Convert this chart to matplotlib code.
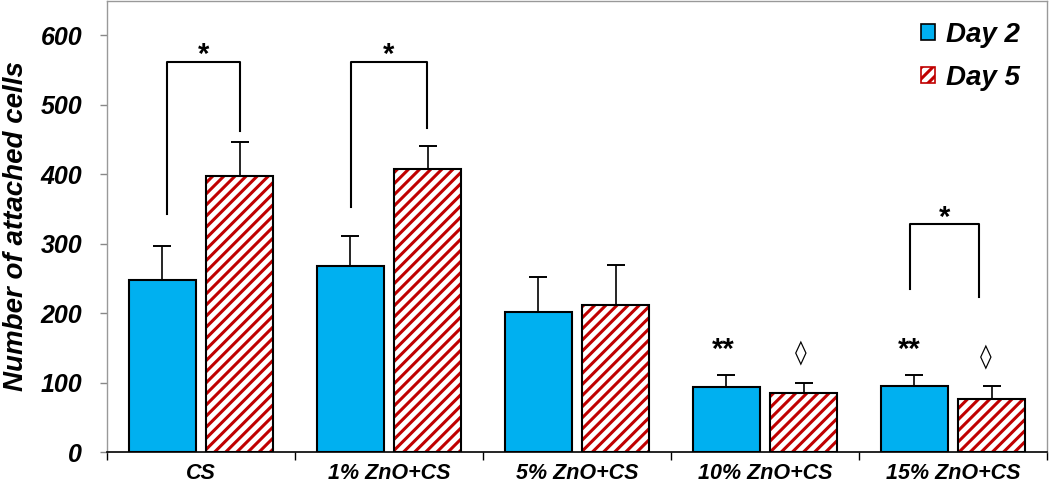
import matplotlib
matplotlib.use("Agg")
import matplotlib.pyplot as plt
import numpy as np
from matplotlib.patches import Patch

plt.rcParams['font.family'] = ['Liberation Sans', 'DejaVu Sans']
plt.rcParams['hatch.linewidth'] = 2.2

categories = ["CS", "1% ZnO+CS", "5% ZnO+CS", "10% ZnO+CS", "15% ZnO+CS"]
day2 = [247, 268, 201, 94, 95]
day2_err = [50, 43, 51, 17, 16]
day5 = [398, 408, 211, 85, 76]
day5_err = [48, 33, 58, 15, 19]
series_labels = ["Day 2", "Day 5"]
yticks = [0, 100, 200, 300, 400, 500, 600]

# significance brackets: (category, left x offset, right x offset, left bottom, right bottom, top)
brackets = [(0, -0.18, 0.21, 342, 462, 562),
            (1, -0.20, 0.20, 353, 466, 562),
            (4, -0.23, 0.14, 234, 223, 328)]
marks = [(3, -0.223, 135, "**"), (3, 0.19, 133, "\u25CA"),
         (4, -0.234, 135, "**"), (4, 0.176, 128, "\u25CA")]

blue = "#00B0F0"
red = "#C00000"

fig = plt.figure(figsize=(10.5, 4.88), dpi=100)
ax = fig.add_axes([107/1050, 1-452/488, 940/1050, 451.5/488])

x = np.arange(len(categories))
w = 0.36
off = 0.205

ax.bar(x - off, day2, w, color=blue, edgecolor="black", linewidth=1.5, zorder=3)
ax.bar(x + off, day5, w, color="white", edgecolor=red, hatch="///", linewidth=0, zorder=3)
ax.bar(x + off, day5, w, fill=False, edgecolor="black", linewidth=1.5, zorder=4)

ax.errorbar(x - off, day2, yerr=[np.zeros(len(day2)), day2_err], fmt="none",
            ecolor="black", elinewidth=1.2, capsize=6.5, capthick=1.4, zorder=2)
ax.errorbar(x + off, day5, yerr=[np.zeros(len(day5)), day5_err], fmt="none",
            ecolor="black", elinewidth=1.2, capsize=6.5, capthick=1.4, zorder=2)

for c, lo, ro, lb, rb, top in brackets:
    ax.plot([c + lo, c + lo, c + ro, c + ro], [lb, top, top, rb], color="black", lw=1.5, zorder=5)
    ax.text(c + (lo + ro) / 2, top - 2, "*", ha="center", va="baseline", fontsize=21,
            fontweight="bold", color="black")

for c, o, y, s in marks:
    if s == "**":
        ax.text(c + o, y, s, ha="center", va="baseline", fontsize=21,
                fontweight="bold", color="black")
    else:
        ax.text(c + o, y, s, ha="center", va="baseline", fontsize=17,
                family=['DejaVu Sans'], color="black")

ax.set_xlim(-0.5, len(categories) - 0.5)
ax.set_ylim(0, 650)
ax.set_yticks(yticks)
ax.set_yticklabels([str(t) for t in yticks], fontsize=18, fontweight="bold", fontstyle="italic")
ax.set_xticks(np.arange(len(categories) + 1) - 0.5)
ax.set_xticklabels([])
ax.set_xticks(x, minor=True)
ax.set_xticklabels(categories, minor=True, fontsize=15.5, fontweight="bold", fontstyle="italic")
ax.tick_params(axis="x", which="minor", length=0, pad=8)
ax.tick_params(axis="x", which="major", length=6, width=1, color="black", direction="out")
ax.tick_params(axis="y", length=5, width=1, color="#888888", direction="out", pad=13)

ax.set_ylabel("Number of attached cells", fontsize=20, fontweight="bold", fontstyle="italic", labelpad=8)

for s in ["left", "top", "right"]:
    ax.spines[s].set_color("#999999")
    ax.spines[s].set_linewidth(1)
ax.spines["bottom"].set_color("black")
ax.spines["bottom"].set_linewidth(1.2)

handles = [Patch(facecolor=blue, edgecolor="black", linewidth=1.2),
           Patch(facecolor="white", edgecolor=red, hatch="///", linewidth=1.2)]
leg = fig.legend(handles, series_labels, loc="upper left", bbox_to_anchor=(921/1050, 1-22/488),
                 frameon=False, prop={"size": 20, "weight": "bold", "style": "italic"},
                 handlelength=0.5, handleheight=0.5, handletextpad=0.4, labelspacing=0.6,
                 borderpad=0, borderaxespad=0)

fig.savefig("out.png", dpi=100)
